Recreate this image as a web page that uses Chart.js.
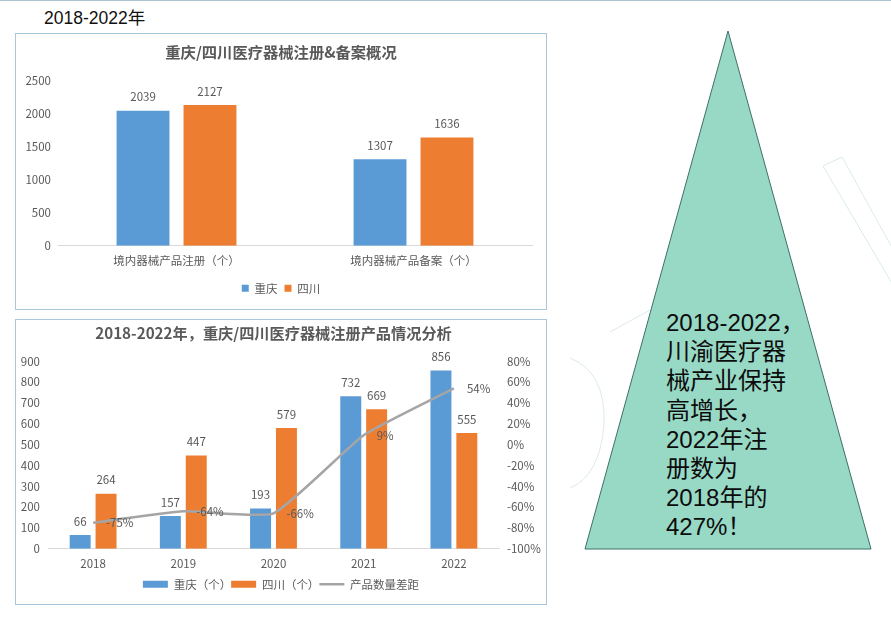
<!DOCTYPE html>
<html lang="zh-CN">
<head>
<meta charset="utf-8">
<title>2018-2022年 川渝医疗器械</title>
<script src="https://cdn.jsdelivr.net/npm/chart.js@4/dist/chart.umd.min.js"></script>
<style>
html, body { margin: 0; padding: 0; background: #fff; }
body { position: relative; width: 891px; height: 620px; overflow: hidden; font-family: "Liberation Sans", "Noto Sans CJK SC", sans-serif; }
#topLine { position: absolute; left: 0; top: 0; width: 891px; height: 1px; background: #a9c3cf; }
#deco { position: absolute; left: 0; top: 0; }
#period { position: absolute; left: 44px; top: 8px; font-size: 17.5px; line-height: 20px; color: #111; }
.panel { position: absolute; left: 15px; width: 530px; background: #fff; border: 1px solid #a9c8de; }
.panel canvas { display: block; }
#panel1 { top: 33px; height: 275px; }
#panel2 { top: 319px; height: 284px; }
#note { position: absolute; left: 666px; top: 308px; width: 140px; font-size: 24px; line-height: 29.2px; color: #0c0c0c; white-space: nowrap; }
</style>
</head>
<body>
<div id="topLine"></div>
<svg id="deco" width="891" height="620" fill="none">
  <path d="M823 166 L842 157 L900 262 L900 297 Z" stroke="#dcebe8"/>
  <path d="M570 358 Q606 372 604 424 Q600 476 570 488" stroke="#dcebe8"/>
  <path d="M610 332 L650 310 L660 330" stroke="#dcebe8"/>
  <polygon points="728,31 585,549 871,549" fill="#98d9c6" stroke="#3f6f66" stroke-width="1"/>
</svg>
<div id="period">2018-2022年</div>
<div class="panel" id="panel1"><canvas id="overviewChart" width="530" height="275"></canvas></div>
<div class="panel" id="panel2"><canvas id="trendChart" width="530" height="284"></canvas></div>
<div id="note">2018-2022，<br>川渝医疗器<br>械产业保持<br>高增长，<br>2022年注<br>册数为<br>2018年的<br>427%！</div>

<script>
// 图1：注册 & 备案
const overviewCategories = ['境内器械产品注册（个）', '境内器械产品备案（个）'];
const overviewCq = [2039, 1307];
const overviewSc = [2127, 1636];

// 图2：2018-2022 注册产品
const years = ['2018', '2019', '2020', '2021', '2022'];
const trendCq = [66, 157, 193, 732, 856];
const trendSc = [264, 447, 579, 669, 555];
const trendGap = [-75, -64, -66, 9, 54];

const BLUE = '#5b9bd5';
const ORANGE = '#ed7d31';
const GRAY = '#a5a5a5';
const TEXT = '#595959';
const FONT = '"Noto Sans CJK SC", sans-serif';

Chart.defaults.font.family = FONT;
Chart.defaults.color = TEXT;
Chart.defaults.animation = false;
Chart.defaults.responsive = false;

// 数据标签：柱子在上方，折线在右侧
const valueLabels = {
    id: 'valueLabels',
    afterDatasetsDraw(chart) {
        const ctx = chart.ctx;
        ctx.save();
        ctx.font = '11.5px ' + FONT;
        ctx.fillStyle = TEXT;
        chart.data.datasets.forEach((ds, i) => {
            chart.getDatasetMeta(i).data.forEach((el, j) => {
                if (ds.type === 'line') {
                    ctx.textAlign = 'left';
                    ctx.textBaseline = 'middle';
                    ctx.fillText(ds.data[j] + '%', el.x + 13, el.y);
                } else {
                    ctx.textAlign = 'center';
                    ctx.textBaseline = 'bottom';
                    ctx.fillText(ds.data[j], el.x, el.y - 8);
                }
            });
        });
        ctx.restore();
    }
};

function fixWidth(w) {
    return scale => { scale.width = w; };
}

// 图例：柱子用矩形，折线用细线
function legendItems(chart) {
    const items = Chart.defaults.plugins.legend.labels.generateLabels(chart);
    items.forEach(item => {
        const isLine = chart.data.datasets[item.datasetIndex].type === 'line';
        item.pointStyle = isLine ? 'line' : 'rect';
    });
    return items;
}

new Chart(document.getElementById('overviewChart'), {
    type: 'bar',
    data: {
        labels: overviewCategories,
        datasets: [
            { label: '重庆', data: overviewCq, backgroundColor: BLUE },
            { label: '四川', data: overviewSc, backgroundColor: ORANGE }
        ]
    },
    options: {
        categoryPercentage: 0.565,
        barPercentage: 0.79,
        layout: { padding: { bottom: 5, top: 9 } },
        plugins: {
            title: { display: true, text: '重庆/四川医疗器械注册&备案概况', color: TEXT, font: { size: 15.3, weight: 'bold' }, padding: { top: 0, bottom: 19 } },
            legend: { position: 'bottom', labels: { boxWidth: 7, boxHeight: 7, padding: 7, font: { size: 11.5 }, color: TEXT } },
            tooltip: { enabled: false }
        },
        scales: {
            x: {
                grid: { display: false, drawTicks: false },
                border: { color: '#d9d9d9' },
                ticks: { font: { size: 11.5 }, padding: 8, maxRotation: 0 }
            },
            y: {
                min: 0, max: 2500,
                afterFit: fixWidth(42),
                grid: { display: false, drawTicks: false },
                border: { display: false },
                ticks: { stepSize: 500, font: { size: 11.5 }, padding: 7, callback: v => String(v) }
            },
            // 右侧留白，让标题和图例仍然居中
            yRightGap: {
                position: 'right',
                afterFit: fixWidth(14),
                grid: { display: false, drawTicks: false },
                border: { display: false },
                ticks: { display: false }
            }
        }
    },
    plugins: [valueLabels]
});

new Chart(document.getElementById('trendChart'), {
    data: {
        labels: years,
        datasets: [
            { type: 'line', label: '产品数量差距', data: trendGap, yAxisID: 'yGap', borderColor: GRAY, backgroundColor: GRAY, borderWidth: 2.5, pointRadius: 0, tension: 0.15, order: 0 },
            { type: 'bar', label: '重庆（个）', data: trendCq, yAxisID: 'y', backgroundColor: BLUE, order: 1 },
            { type: 'bar', label: '四川（个）', data: trendSc, yAxisID: 'y', backgroundColor: ORANGE, order: 1 }
        ]
    },
    options: {
        categoryPercentage: 0.574,
        barPercentage: 0.81,
        layout: { padding: { bottom: 4, top: 4 } },
        plugins: {
            title: { display: true, fullSize: false, text: '2018-2022年，重庆/四川医疗器械注册产品情况分析', color: TEXT, font: { size: 15.2, weight: 'bold' }, padding: { top: 0, bottom: 19 } },
            legend: {
                position: 'bottom',
                labels: {
                    usePointStyle: true, pointStyleWidth: 25, boxHeight: 7, padding: 0, font: { size: 11.5 }, color: TEXT,
                    generateLabels: legendItems,
                    sort: (a, b) => b.datasetIndex === 0 ? -1 : a.datasetIndex === 0 ? 1 : a.datasetIndex - b.datasetIndex
                }
            },
            tooltip: { enabled: false }
        },
        scales: {
            x: {
                grid: { display: false, drawTicks: false },
                border: { color: '#d9d9d9' },
                ticks: { font: { size: 11.5 }, padding: 8, maxRotation: 0 }
            },
            y: {
                position: 'left', min: 0, max: 900,
                afterFit: fixWidth(32),
                grid: { display: false, drawTicks: false },
                border: { display: false },
                ticks: { stepSize: 100, font: { size: 11.5 }, padding: 8 }
            },
            yGap: {
                position: 'right', min: -100, max: 80,
                afterFit: fixWidth(47),
                grid: { display: false, drawTicks: false },
                border: { display: false },
                ticks: { stepSize: 20, font: { size: 11.5 }, padding: 8, callback: v => v + '%' }
            }
        }
    },
    plugins: [valueLabels]
});
</script>
</body>
</html>
